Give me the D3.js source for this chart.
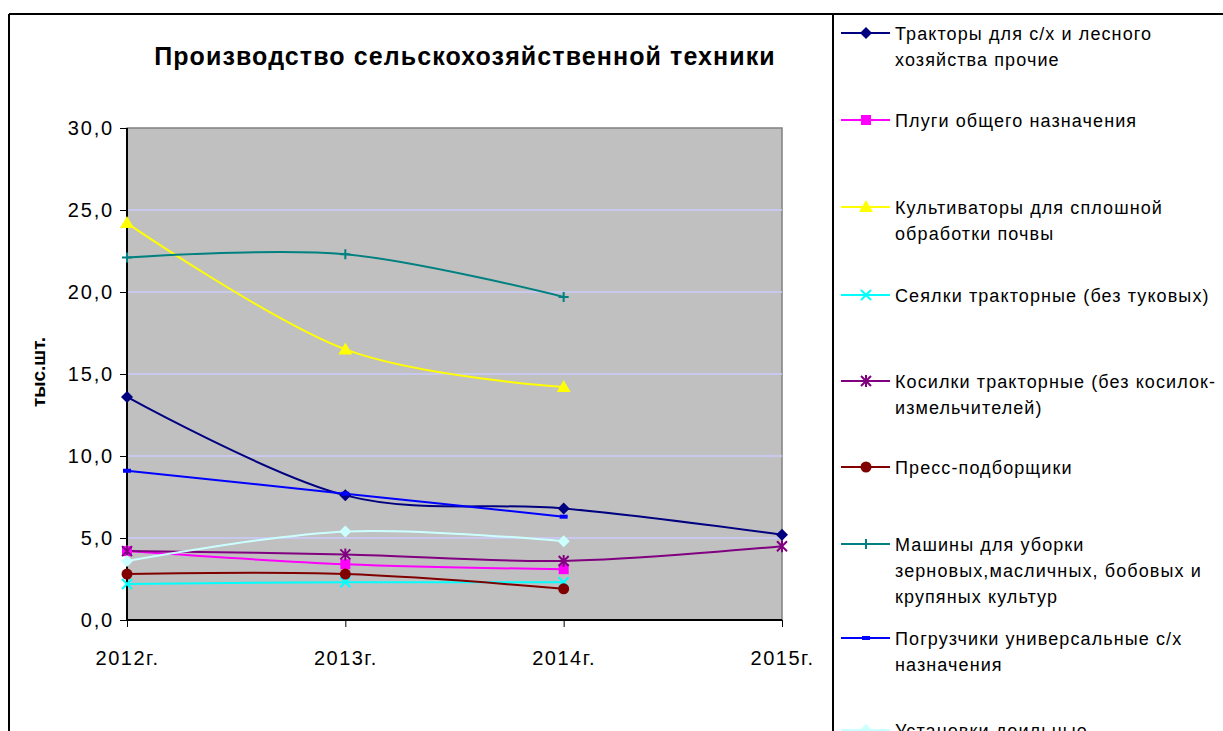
<!DOCTYPE html>
<meta charset="utf-8">
<style>
body { margin: 0; background: #fff; }
text { font-family: Arial, "Liberation Sans", sans-serif; }
.axis path { display: none; }
</style>
<svg width="1223" height="731"></svg>
<script src="https://d3js.org/d3.v7.min.js"></script>
<script>

var years = ["2012г.", "2013г.", "2014г.", "2015г."];
var yTicks = [0, 5, 10, 15, 20, 25, 30];

var names = [
  ["Тракторы для с/х и лесного", "хозяйства прочие"],
  ["Плуги общего назначения"],
  ["Культиваторы для сплошной", "обработки почвы"],
  ["Сеялки тракторные (без туковых)"],
  ["Косилки тракторные (без косилок-", "измельчителей)"],
  ["Пресс-подборщики"],
  ["Машины для уборки", "зерновых,масличных, бобовых и", "крупяных культур"],
  ["Погрузчики универсальные с/х", "назначения"],
  ["Установки доильные"]
];

var tractors   = [13.6, 7.6, 6.8, 5.2];
var plows      = [4.2, 3.4, 3.1];
var cultivators = [24.2, 16.5, 14.2];
var seeders    = [2.2, 2.3, 2.3];
var mowers     = [4.2, 4.0, 3.6, 4.5];
var balers     = [2.8, 2.8, 1.9];
var harvesters = [22.1, 22.3, 19.7];
var loaders    = [9.1, 7.7, 6.3];
var milking    = [3.6, 5.4, 4.8];

var seriesValues = [tractors, plows, cultivators, seeders, mowers, balers, harvesters, loaders, milking];
var colors = ["#000080", "#ff00ff", "#ffff00", "#00ffff", "#800080", "#800000", "#008080", "#0000ff", "#ccffff"];
var markers = ["diamond", "square", "triangle", "x", "star", "circle", "plus", "dash", "diamond"];

var svg = d3.select("svg");
var margin = {left: 127, top: 128, right: 782, bottom: 620};

var x = d3.scalePoint().domain(years).range([margin.left, margin.right]);
var y = d3.scaleLinear().domain([0, 30]).range([margin.bottom, margin.top]);

// frame
svg.append("line").attr("x1", 9).attr("x2", 1223).attr("y1", 14).attr("y2", 14)
  .attr("stroke", "#000").attr("stroke-width", 2);
svg.append("line").attr("x1", 9).attr("x2", 9).attr("y1", 14).attr("y2", 731)
  .attr("stroke", "#000").attr("stroke-width", 2);
svg.append("line").attr("x1", 833).attr("x2", 833).attr("y1", 14).attr("y2", 731)
  .attr("stroke", "#000").attr("stroke-width", 2);

svg.append("text")
  .attr("x", 465).attr("y", 65)
  .attr("text-anchor", "middle")
  .attr("font-size", "25px").attr("font-weight", "bold")
  .attr("letter-spacing", "1.1px")
  .text("Производство сельскохозяйственной техники");

// plot area
svg.append("rect")
  .attr("x", margin.left).attr("y", margin.top)
  .attr("width", margin.right - margin.left).attr("height", margin.bottom - margin.top)
  .attr("fill", "#c0c0c0").attr("stroke", "#808080").attr("stroke-width", 1.5);

svg.append("g").selectAll("line")
  .data(yTicks.filter(function(d) { return d > 0 && d < 30; }))
  .enter().append("line")
  .attr("x1", margin.left).attr("x2", margin.right)
  .attr("y1", function(d) { return y(d); }).attr("y2", function(d) { return y(d); })
  .attr("stroke", "#ccccff").attr("stroke-width", 1.5);

var yAxis = svg.append("g")
  .attr("class", "axis")
  .attr("transform", "translate(" + margin.left + ",0)")
  .call(d3.axisLeft(y).tickValues(yTicks).tickSize(7).tickPadding(6)
    .tickFormat(function(d) { return d3.format(".1f")(d).replace(".", ","); }));
yAxis.selectAll("text").attr("font-size", "20px").attr("letter-spacing", "1.8px").attr("fill", "#000");
yAxis.selectAll("line").attr("stroke", "#000");

var xAxis = svg.append("g")
  .attr("class", "axis")
  .attr("transform", "translate(0," + margin.bottom + ")")
  .call(d3.axisBottom(x).tickSize(7).tickPadding(24));
xAxis.selectAll("text").attr("font-size", "20px").attr("letter-spacing", "1.5px").attr("fill", "#000");
xAxis.selectAll("line").attr("stroke", "#000");

svg.append("line").attr("x1", margin.left).attr("x2", margin.left)
  .attr("y1", margin.top).attr("y2", margin.bottom).attr("stroke", "#000").attr("stroke-width", 2);
svg.append("line").attr("x1", margin.left).attr("x2", margin.right)
  .attr("y1", margin.bottom).attr("y2", margin.bottom).attr("stroke", "#000").attr("stroke-width", 2);

svg.append("text")
  .attr("transform", "translate(45,372) rotate(-90)")
  .attr("text-anchor", "middle")
  .attr("font-size", "19px").attr("font-weight", "bold")
  .text("тыс.шт.");

function drawMarker(g, type, color, cx, cy) {
  if (type === "diamond") {
    g.append("path").attr("d", "M" + cx + "," + (cy - 6) + "L" + (cx + 6) + "," + cy + "L" + cx + "," + (cy + 6) + "L" + (cx - 6) + "," + cy + "Z")
      .attr("fill", color);
  } else if (type === "square") {
    g.append("rect").attr("x", cx - 5).attr("y", cy - 5).attr("width", 10).attr("height", 10).attr("fill", color);
  } else if (type === "triangle") {
    g.append("path").attr("d", "M" + cx + "," + (cy - 7) + "L" + (cx + 7) + "," + (cy + 5) + "L" + (cx - 7) + "," + (cy + 5) + "Z")
      .attr("fill", color);
  } else if (type === "circle") {
    g.append("circle").attr("cx", cx).attr("cy", cy).attr("r", 5.5).attr("fill", color);
  } else if (type === "x") {
    g.append("path").attr("d", "M" + (cx - 5) + "," + (cy - 5) + "L" + (cx + 5) + "," + (cy + 5) + "M" + (cx + 5) + "," + (cy - 5) + "L" + (cx - 5) + "," + (cy + 5))
      .attr("stroke", color).attr("stroke-width", 2);
  } else if (type === "star") {
    g.append("path").attr("d", "M" + (cx - 5) + "," + (cy - 5) + "L" + (cx + 5) + "," + (cy + 5) + "M" + (cx + 5) + "," + (cy - 5) + "L" + (cx - 5) + "," + (cy + 5) + "M" + cx + "," + (cy - 6) + "L" + cx + "," + (cy + 6))
      .attr("stroke", color).attr("stroke-width", 2);
  } else if (type === "plus") {
    g.append("path").attr("d", "M" + (cx - 5) + "," + cy + "L" + (cx + 5) + "," + cy + "M" + cx + "," + (cy - 5) + "L" + cx + "," + (cy + 5))
      .attr("stroke", color).attr("stroke-width", 2);
  } else if (type === "dash") {
    g.append("rect").attr("x", cx - 4).attr("y", cy - 2).attr("width", 8).attr("height", 4).attr("fill", color);
  }
}

var line = d3.line()
  .x(function(d, i) { return x(years[i]); })
  .y(function(d) { return y(d); })
  .curve(d3.curveCatmullRom.alpha(0));

var plot = svg.append("g");
seriesValues.forEach(function(vals, s) {
  plot.append("path")
    .attr("d", line(vals))
    .attr("fill", "none")
    .attr("stroke", colors[s])
    .attr("stroke-width", 2);
});
seriesValues.forEach(function(vals, s) {
  var g = plot.append("g");
  vals.forEach(function(v, i) {
    drawMarker(g, markers[s], colors[s], x(years[i]), y(v));
  });
});

// legend
var legendY = [33, 120, 207, 295, 381, 467, 544, 638, 730];
var legend = svg.append("g");
names.forEach(function(lines, s) {
  var ly = legendY[s];
  legend.append("line").attr("x1", 841).attr("x2", 890).attr("y1", ly).attr("y2", ly)
    .attr("stroke", colors[s]).attr("stroke-width", 2);
  drawMarker(legend, markers[s], colors[s], 866, ly);
  var t = legend.append("text").attr("x", 895).attr("y", ly + 7)
    .attr("font-size", "18px").attr("letter-spacing", "1.1px").attr("fill", "#000");
  lines.forEach(function(l, k) {
    t.append("tspan").attr("x", 895).attr("dy", k === 0 ? 0 : 26).text(l);
  });
});

</script>
